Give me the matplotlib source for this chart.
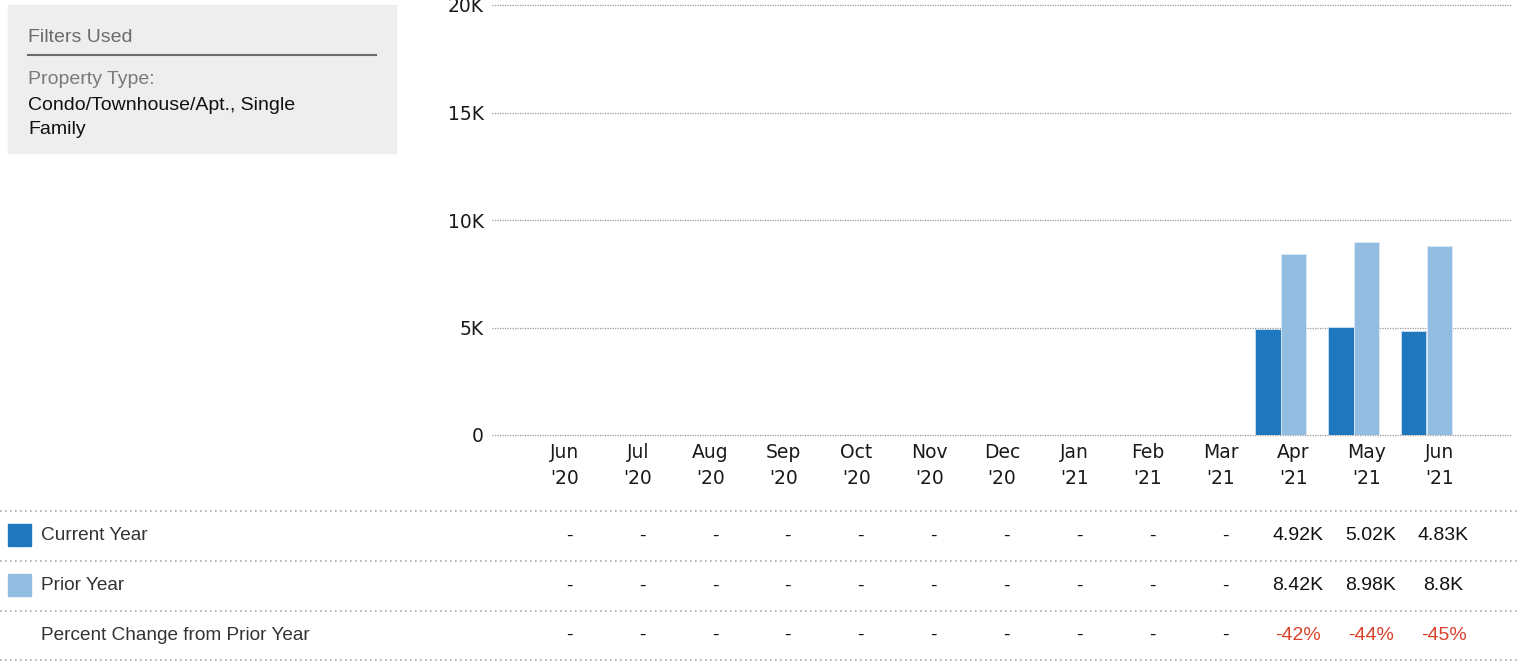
import matplotlib
matplotlib.use("Agg")
import matplotlib.pyplot as plt
import matplotlib.transforms as mtransforms
from matplotlib.patches import Rectangle

# data
months = ["Jun\n'20", "Jul\n'20", "Aug\n'20", "Sep\n'20", "Oct\n'20", "Nov\n'20", "Dec\n'20",
          "Jan\n'21", "Feb\n'21", "Mar\n'21", "Apr\n'21", "May\n'21", "Jun\n'21"]
current_year = [None] * 10 + [4920, 5020, 4830]
prior_year = [None] * 10 + [8420, 8980, 8800]
current_lbl = ["-"] * 10 + ["4.92K", "5.02K", "4.83K"]
prior_lbl = ["-"] * 10 + ["8.42K", "8.98K", "8.8K"]
pct_lbl = ["-"] * 10 + ["-42%", "-44%", "-45%"]
yticks = [0, 5000, 10000, 15000, 20000]
ytick_lbl = ["0", "5K", "10K", "15K", "20K"]

c_cur = "#1f78be"
c_pri = "#93bde0"
W, H = 1518, 662

fig = plt.figure(figsize=(W / 100, H / 100), dpi=100)

# overlay in pixel coords for the side panel and table
ov = fig.add_axes([0, 0, 1, 1])
ov.set_xlim(0, W)
ov.set_ylim(H, 0)
ov.axis("off")

# main chart
ax = fig.add_axes([492 / W, (H - 435) / H, (1512 - 492) / W, 430 / H])
x = list(range(len(months)))
cx = [i - 0.35 for i, v in zip(x, current_year) if v is not None]
cv = [v for v in current_year if v is not None]
px = [i for i, v in zip(x, prior_year) if v is not None]
pv = [v for v in prior_year if v is not None]
ax.bar(cx, cv, width=0.35, color=c_cur, edgecolor="#cfe0f0", linewidth=0.6, zorder=3)
ax.bar(px, pv, width=0.34, color=c_pri, edgecolor="#dde9f5", linewidth=0.6, zorder=3)
ax.set_xlim(-1, 13)
ax.set_ylim(0, 20000)
ax.set_yticks(yticks)
ax.set_yticklabels(ytick_lbl, fontsize=13.5, color="#1a1a1a", family="DejaVu Sans")
ax.set_xticks(x)
ax.set_xticklabels(months, fontsize=13.5, color="#1a1a1a", family="DejaVu Sans", linespacing=1.45)
ax.tick_params(length=0, pad=6)
ax.tick_params(axis="x", pad=6)
ax.grid(axis="y", color="#999999", linestyle=(0, (1, 1)), linewidth=0.9, zorder=0)
for gl in ax.get_ygridlines():
    gl.set_clip_on(False)
for s in ax.spines.values():
    s.set_visible(False)
ax.patch.set_alpha(0)

# filter panel
ov.add_patch(Rectangle((8, 5), 388, 148, color="#eeeeee", zorder=0))
ov.text(28, 37, "Filters Used", fontsize=14, color="#6b6b6b", family="Liberation Sans", va="center")
ov.plot([28, 376], [55, 55], color="#6b6b6b", linewidth=1.5)
ov.text(28, 80, "Property Type:", fontsize=14, color="#7a7a7a", family="Liberation Sans", va="center")
ov.text(28, 105, "Condo/Townhouse/Apt., Single", fontsize=14, color="#111111",
        family="Liberation Sans", va="center")
ov.text(28, 130, "Family", fontsize=14, color="#111111", family="Liberation Sans", va="center")

# table under the chart
for yl in [511, 561, 611, 660]:
    ov.plot([0, W], [yl, yl], color="#aaaaaa", linestyle=(0, (1, 2)), linewidth=1.2)

ov.add_patch(Rectangle((8, 524), 23, 22, color=c_cur))
ov.add_patch(Rectangle((8, 574), 23, 22, color=c_pri))
rows = [("Current Year", current_lbl, 536, "#111111"),
        ("Prior Year", prior_lbl, 586, "#111111"),
        ("Percent Change from Prior Year", pct_lbl, 635, "#d9412b")]
blend = mtransforms.blended_transform_factory(ax.transData, ov.transData)
for name, labels, y, col in rows:
    ov.text(41, y, name, fontsize=13.7, color="#333333", family="Liberation Sans", va="center")
    for i, lab in enumerate(labels):
        ov.text(i + 0.06, y, lab, transform=blend, ha="center", va="center", fontsize=14,
                color="#111111" if lab == "-" else col, family="Liberation Sans")

fig.savefig("out.png", dpi=100)
